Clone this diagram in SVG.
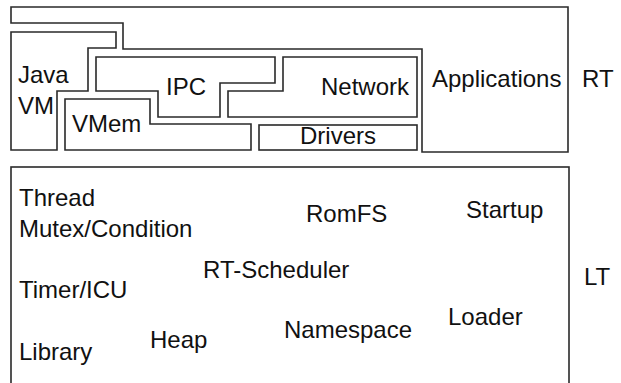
<svg xmlns="http://www.w3.org/2000/svg" width="621" height="383" viewBox="0 0 621 383">
  <style>
    .blk { fill: #ffffff; stroke: #2a2a2a; stroke-width: 1.6; stroke-linejoin: miter; }
    .lbl { font-family: "Liberation Sans", Arial, sans-serif; font-size: 24px; fill: #111111; }
  </style>
  <rect width="621" height="383" fill="#ffffff"/>

  <!-- RT layer -->
  <g id="applications">
    <polygon class="blk" points="11,7 568,7 568,152 422,152 422,49 123,49 123,23 11,23"/>
    <text class="lbl" x="432" y="87">Applications</text>
  </g>
  <g id="java-vm">
    <polygon class="blk" points="11,32 116,32 116,48 88,48 88,91 57,91 57,150 11,150"/>
    <text class="lbl" x="18" y="83">Java</text>
    <text class="lbl" x="18" y="114">VM</text>
  </g>
  <g id="ipc">
    <polygon class="blk" points="96,57 275,57 275,83 220,83 220,117 158,117 158,91 96,91"/>
    <text class="lbl" x="166" y="95">IPC</text>
  </g>
  <g id="network">
    <polygon class="blk" points="283,57 417,57 417,117 228,117 228,91 283,91"/>
    <text class="lbl" x="321" y="95">Network</text>
  </g>
  <g id="vmem">
    <polygon class="blk" points="65,99 150,99 150,124 251,124 251,150 65,150"/>
    <text class="lbl" x="72" y="132">VMem</text>
  </g>
  <g id="drivers">
    <rect class="blk" x="259" y="125" width="158" height="25"/>
    <text class="lbl" x="300" y="144">Drivers</text>
  </g>
  <g id="rt-label">
    <text class="lbl" x="582" y="87">RT</text>
  </g>

  <!-- LT layer -->
  <g id="lt">
    <rect class="blk" x="11" y="167" width="558" height="230"/>
    <text class="lbl" x="19" y="206">Thread</text>
    <text class="lbl" x="19" y="237">Mutex/Condition</text>
    <text class="lbl" x="19" y="298">Timer/ICU</text>
    <text class="lbl" x="19" y="360">Library</text>
    <text class="lbl" x="150" y="348">Heap</text>
    <text class="lbl" x="203" y="278">RT-Scheduler</text>
    <text class="lbl" x="306" y="222">RomFS</text>
    <text class="lbl" x="284" y="338">Namespace</text>
    <text class="lbl" x="466" y="218">Startup</text>
    <text class="lbl" x="448" y="325">Loader</text>
  </g>
  <g id="lt-label">
    <text class="lbl" x="584" y="285">LT</text>
  </g>

  <g id="connectors"></g>
</svg>
